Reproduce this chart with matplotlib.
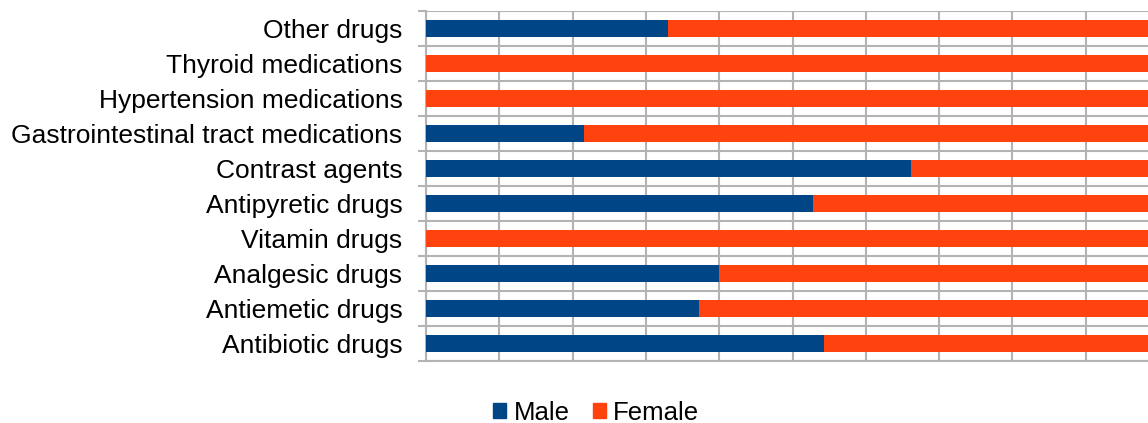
import matplotlib.pyplot as plt
from matplotlib.patches import Patch

plt.rcParams['font.family'] = ['Liberation Sans', 'DejaVu Sans']

# drug groups, listed from bottom to top
categories = ['Antibiotic drugs', 'Antiemetic drugs', 'Analgesic drugs', 'Vitamin drugs',
              'Antipyretic drugs', 'Contrast agents', 'Gastrointestinal tract medications',
              'Hypertension medications', 'Thyroid medications', 'Other drugs']
male = [54.3, 37.3, 40.0, 0.0, 52.8, 66.2, 21.5, 0.0, 0.0, 33.0]
female = [45.7, 62.7, 60.0, 100.0, 47.2, 33.8, 78.5, 100.0, 100.0, 67.0]

male_color = '#004586'
female_color = '#ff420e'
grid_color = '#b3b3b3'

fig = plt.figure(figsize=(11.48, 4.23), dpi=100)
ax = fig.add_axes([426 / 1148, 62 / 423, 733 / 1148, 350 / 423])

y = list(range(len(categories)))
ax.barh(y, male, height=0.5, color=male_color, zorder=3)
ax.barh(y, female, left=male, height=0.5, color=female_color, zorder=3)

ax.set_xlim(0, 100)
ax.set_ylim(-0.5, len(categories) - 0.5)

# vertical grid every 10 %
ax.set_xticks(range(0, 101, 10))
ax.tick_params(axis='x', length=0, labelbottom=False)
ax.xaxis.grid(True, color=grid_color, linewidth=1.5, zorder=0)

# category labels, with grid lines between the rows
ax.set_yticks(y)
ax.set_yticklabels(categories, fontsize=19)
ax.tick_params(axis='y', which='major', length=0, pad=17)
ax.set_yticks([i - 0.5 for i in range(len(categories) + 1)], minor=True)
ax.tick_params(axis='y', which='minor', length=6, width=1.5, color=grid_color)
ax.yaxis.grid(True, which='minor', color=grid_color, linewidth=1.5, zorder=0)

for side in ['top', 'right']:
    ax.spines[side].set_visible(False)
for side in ['left', 'bottom']:
    ax.spines[side].set_color(grid_color)
    ax.spines[side].set_linewidth(1.5)

handles = [Patch(color=male_color, label='Male'), Patch(color=female_color, label='Female')]
fig.legend(handles=handles, loc='center', bbox_to_anchor=(596 / 1148, 10 / 423),
           ncol=2, frameon=False, fontsize=18.5, handlelength=0.53, handleheight=0.53,
           handletextpad=0.27, columnspacing=0.9)

fig.savefig('out.png', dpi=100)
